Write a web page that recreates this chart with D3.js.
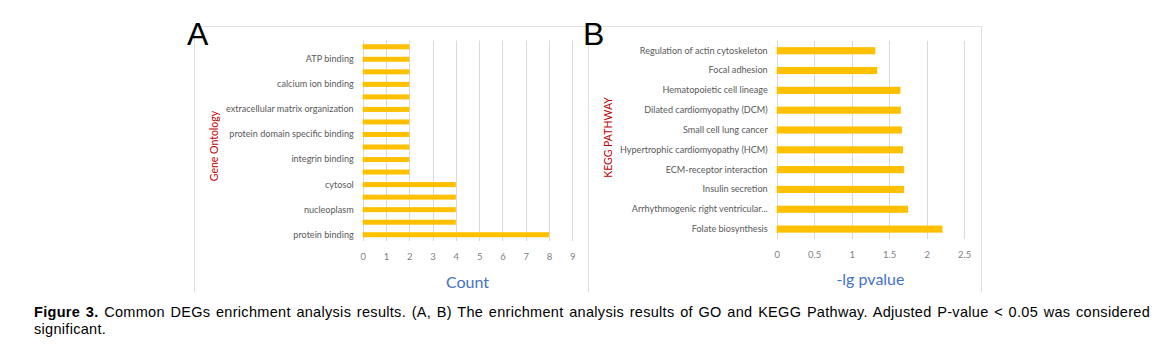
<!DOCTYPE html>
<html>
<head>
<meta charset="utf-8">
<script src="https://cdn.jsdelivr.net/npm/d3@7"></script>
<style>
  body { margin: 0; background: #fff; }
  #vizcontainer { position: relative; width: 1172px; height: 350px; }
  #caption {
    position: absolute; left: 34px; top: 304px; width: 1116px;
    font-family: "Liberation Sans", Arial, sans-serif; font-size: 14.5px;
    letter-spacing: 0.3px; line-height: 17px; color: #000;
  }
  #caption .l1 { text-align: justify; text-align-last: justify; white-space: nowrap; }
</style>
</head>
<body>
<div id="vizcontainer"></div>
<script>
// panel A - GO terms, bottom to top (blank = label hidden by axis)
const goTerms = ['protein binding', '', 'nucleoplasm', '', 'cytosol', '', 'integrin binding', '',
  'protein domain specific binding', '', 'extracellular matrix organization', '', 'calcium ion binding', '',
  'ATP binding', ''];
const goCounts = [8, 4, 4, 4, 4, 2, 2, 2, 2, 2, 2, 2, 2, 2, 2, 2];
const goTicks = [0, 1, 2, 3, 4, 5, 6, 7, 8, 9];

// panel B - KEGG pathways, bottom to top
const keggTerms = ['Folate biosynthesis', 'Arrhythmogenic right ventricular...', 'Insulin secretion',
  'ECM-receptor interaction', 'Hypertrophic cardiomyopathy (HCM)', 'Small cell lung cancer',
  'Dilated cardiomyopathy (DCM)', 'Hematopoietic cell lineage', 'Focal adhesion',
  'Regulation of actin cytoskeleton'];
const keggValues = [2.21, 1.75, 1.70, 1.70, 1.685, 1.67, 1.655, 1.65, 1.34, 1.315];
const keggTicks = [0, 0.5, 1, 1.5, 2, 2.5];

const captionLines = ['Common DEGs enrichment analysis results. (A, B) The enrichment analysis results of GO and KEGG Pathway. Adjusted P-value < 0.05 was considered',
  'significant.'];

const width = 1172, height = 350;
const barColor = '#FFC000';
const chartFont = 'Lato, "Open Sans", sans-serif';

let svg = d3.select('#vizcontainer')
  .append('svg')
  .attr('width', width)
  .attr('height', height)
  .style('position', 'absolute')
  .style('left', 0).style('top', 0);

// frames
svg.append('path')
  .attr('d', 'M194.5,292 V26.5 H981.5 V292 M588.5,26 V292')
  .attr('fill', 'none')
  .attr('stroke', '#e0e0e0')
  .attr('stroke-width', 1);

function panel(opts) {
  const g = svg.append('g');
  const x = d3.scaleLinear().domain(opts.domain).range([opts.x0, opts.x1]);
  const y = d3.scaleBand()
    .domain(d3.range(opts.labels.length))
    .range([opts.y1, opts.y0])
    .paddingInner(opts.pad).paddingOuter(opts.pad / 2);

  // gridlines
  g.selectAll('line.grid')
    .data(opts.ticks)
    .join('line')
    .attr('class', 'grid')
    .attr('x1', d => Math.round(x(d)) + 0.5)
    .attr('x2', d => Math.round(x(d)) + 0.5)
    .attr('y1', opts.y0)
    .attr('y2', opts.y1)
    .attr('stroke', '#d9d9d9');

  g.selectAll('rect')
    .data(opts.values)
    .join('rect')
    .attr('x', x(0))
    .attr('y', (d, i) => y(i))
    .attr('width', d => x(d) - x(0))
    .attr('height', y.bandwidth())
    .attr('fill', barColor);

  // category labels
  g.append('g')
    .attr('transform', `translate(${x(0) - 9},0)`)
    .call(d3.axisLeft(y).tickSize(0).tickPadding(0).tickFormat(i => opts.labels[i]))
    .call(a => a.select('.domain').remove())
    .selectAll('text')
    .style('font-family', chartFont)
    .style('font-size', '9.1px')
    .attr('fill', '#595959');

  // value ticks
  g.append('g')
    .attr('transform', `translate(0,${opts.y1 + 12})`)
    .call(d3.axisBottom(x).tickValues(opts.ticks).tickSize(0).tickPadding(0).tickFormat(d3.format('')))
    .call(a => a.select('.domain').remove())
    .selectAll('text')
    .style('font-family', chartFont)
    .style('font-size', '9.5px')
    .attr('fill', '#7f7f7f');

  g.append('text')
    .attr('x', (opts.x0 + opts.x1) / 2)
    .attr('y', opts.titleY)
    .attr('text-anchor', 'middle')
    .attr('dominant-baseline', 'central')
    .style('font-family', chartFont)
    .style('font-size', '16px')
    .attr('fill', '#4472C4')
    .text(opts.xTitle);

  g.append('text')
    .attr('transform', `translate(${opts.yTitleX},${opts.yTitleY}) rotate(-90)`)
    .attr('text-anchor', 'middle')
    .attr('dominant-baseline', 'central')
    .style('font-family', chartFont)
    .style('font-size', '10.5px')
    .attr('fill', '#C00000')
    .text(opts.yTitle);

  g.append('text')
    .attr('x', opts.letterX)
    .attr('y', 45)
    .style('font-family', '"Liberation Sans", Arial, sans-serif')
    .style('font-size', '32px')
    .attr('fill', '#000')
    .text(opts.letter);
}

panel({
  labels: goTerms, values: goCounts, ticks: goTicks, domain: [0, 9],
  x0: 362.7, x1: 572.3, y0: 40.5, y1: 241, pad: 0.6,
  xTitle: 'Count', titleY: 281.5, yTitle: 'Gene Ontology', yTitleX: 214, yTitleY: 146,
  letter: 'A', letterX: 187
});

panel({
  labels: keggTerms, values: keggValues, ticks: keggTicks, domain: [0, 2.5],
  x0: 776.7, x1: 964.2, y0: 40.8, y1: 239, pad: 0.64,
  xTitle: '-lg pvalue', titleY: 278, yTitle: 'KEGG PATHWAY', yTitleX: 608, yTitleY: 137.5,
  letter: 'B', letterX: 583
});

const cap = d3.select('#vizcontainer')
  .append('div')
  .attr('id', 'caption');
const l1 = cap.append('div').attr('class', 'l1');
l1.append('b').text('Figure 3.');
l1.append('span').text(' ' + captionLines[0]);
cap.append('div').text(captionLines[1]);
</script>
</body>
</html>
